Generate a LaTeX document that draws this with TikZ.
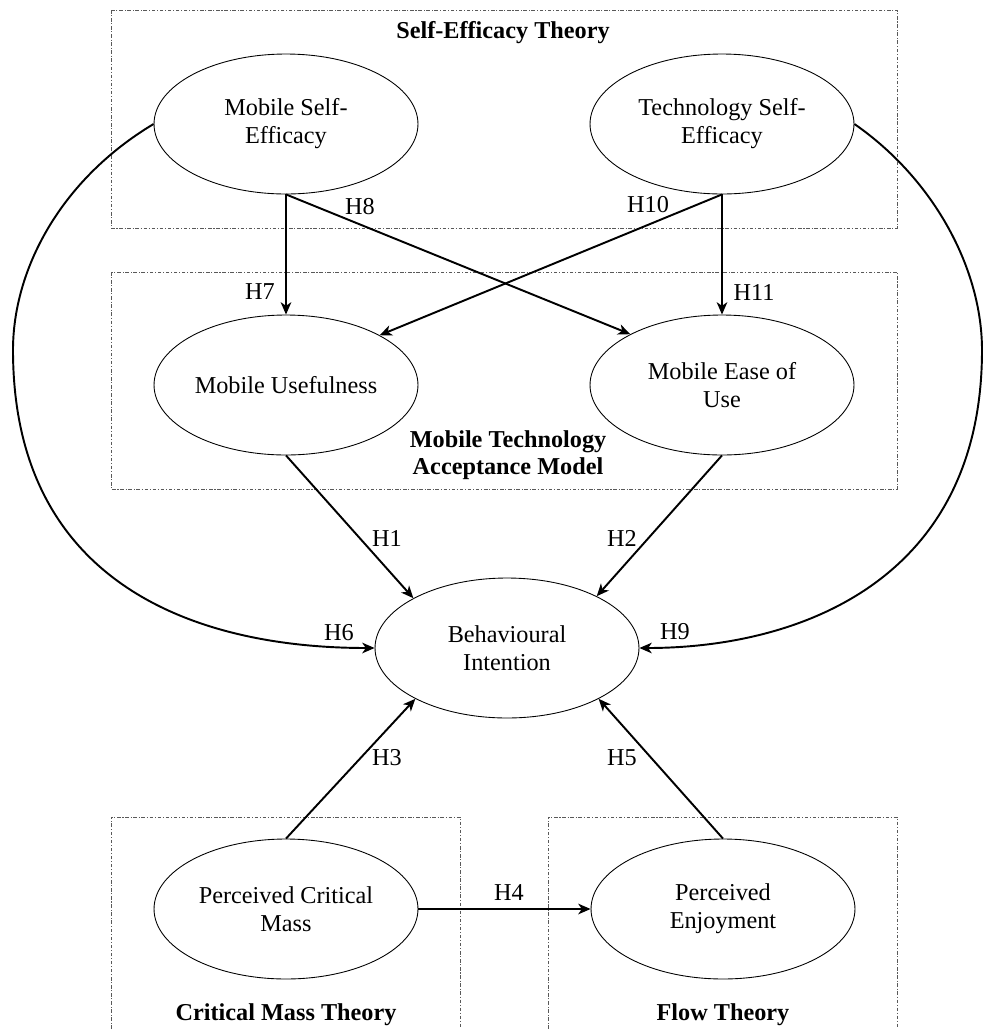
\documentclass[tikz,border=0pt]{standalone}
\usepackage{fontspec}
\setmainfont{Liberation Serif}
\usetikzlibrary{shapes.geometric,arrows.meta}
\tikzset{
  construct/.style={draw, ellipse, line width=0.5pt, minimum width=5.28cm, minimum height=2.8cm, inner sep=0pt, align=center, font=\fontsize{13.8}{16}\selectfont},
  theorybox/.style={draw=black!65, line width=0.5pt, dash pattern=on 2pt off 1pt on 0.6pt off 1pt},
  hyp/.style={line width=1.1pt, -{Stealth[length=7pt,width=6pt,inset=2pt]}},
  hlabel/.style={inner sep=0pt, font=\fontsize{13.8}{16}\selectfont},
  title/.style={inner sep=0pt, align=center, font=\fontsize{13.8}{15.5}\selectfont\bfseries}
}
\begin{document}
\begin{tikzpicture}[x=0.02cm,y=-0.02cm]
\useasboundingbox (0,0) rectangle (984,1029);
% theory boxes
\draw[theorybox] (111,10) rectangle (897,228);
\draw[theorybox] (111,272) rectangle (897,489);
\draw[theorybox] (111,1029) -- (111,817) -- (460,817) -- (460,1029);
\draw[theorybox] (548,1029) -- (548,817) -- (897,817) -- (897,1029);
% titles
\node[title] (tse-title) at (503,33) {Self-Efficacy Theory};
\node[title] (tam-title) at (508,455) {Mobile Technology\\Acceptance Model};
\node[title] (cm-title) at (286,1015) {Critical Mass Theory};
\node[title] (fl-title) at (723,1015) {Flow Theory};
% constructs
\node[construct] (mse) at (286,124) {Mobile Self-\\Efficacy};
\node[construct] (tse) at (722,124) {Technology Self-\\Efficacy};
\node[construct] (mu) at (286,385) {Mobile Usefulness};
\node[construct] (meou) at (722,385) {Mobile Ease of\\Use};
\node[construct] (bi) at (507,648) {Behavioural\\Intention};
\node[construct] (pcm) at (286,909) {Perceived Critical\\Mass};
\node[construct] (pe) at (723,909) {Perceived\\Enjoyment};
% hypotheses
\draw[hyp] (mse.south) -- (mu.north);
\draw[hyp] (mse.south) -- (meou.151);
\draw[hyp] (tse.south) -- (mu.28);
\draw[hyp] (tse.south) -- (meou.north);
\draw[hyp] (mu.south) -- (bi.152);
\draw[hyp] (meou.south) -- (bi.30);
\draw[hyp] (pcm.north) -- (bi.209);
\draw[hyp] (pe.north) -- (bi.331);
\draw[hyp] (pcm.east) -- (pe.west);
\draw[hyp] (mse.west) .. controls (60,180) and (13,270) .. (13,350)
  .. controls (13,580) and (190,648) .. (bi.west);
\draw[hyp] (tse.east) .. controls (935,180) and (982,270) .. (982,350)
  .. controls (982,580) and (800,648) .. (bi.east);
% labels
\node[hlabel] (h1) at (387,538) {H1};
\node[hlabel] (h2) at (622,538) {H2};
\node[hlabel] (h3) at (387,758) {H3};
\node[hlabel] (h4) at (509,893) {H4};
\node[hlabel] (h5) at (622,758) {H5};
\node[hlabel] (h6) at (339,633) {H6};
\node[hlabel] (h7) at (260,292) {H7};
\node[hlabel] (h8) at (360,207) {H8};
\node[hlabel] (h9) at (675,632) {H9};
\node[hlabel] (h10) at (648,205) {H10};
\node[hlabel] (h11) at (754,292) {H11};
\end{tikzpicture}
\end{document}
